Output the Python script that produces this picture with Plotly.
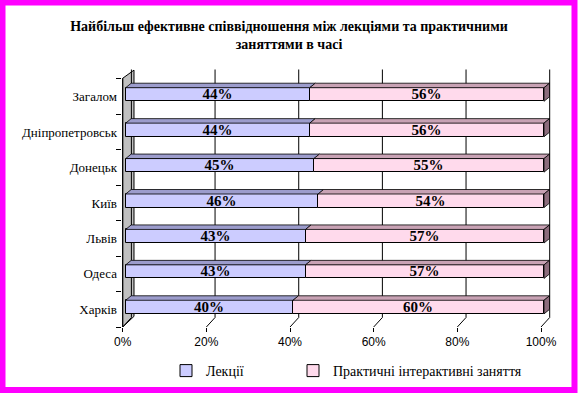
import plotly.graph_objects as go

# ---- data ----
cities = ["Загалом", "Дніпропетровськ", "Донецьк", "Київ", "Львів", "Одеса", "Харків"]
lectures = [44, 44, 45, 46, 43, 43, 40]
practice = [56, 56, 55, 54, 57, 57, 60]
x_ticks = [0, 0.2, 0.4, 0.6, 0.8, 1.0]
x_tick_labels = ["0%", "20%", "40%", "60%", "80%", "100%"]
series_names = ["Лекції", "Практичні інтерактивні заняття"]
title_text = "Найбільш ефективне співвідношення між лекціями та практичними<br>заняттями в часі"

SERIF = "Times New Roman, Liberation Serif, DejaVu Serif, serif"
SANS = "Arial, Liberation Sans, sans-serif"

# ---- geometry helpers (px -> data units) ----
W, H = 578, 393
ML, MR, MT, MB = 122, 22, 69, 66
PX_X = 418.3          # px per x unit (0..1)
PX_Y = 35.43          # px per category
x0px = 122.7          # pixel of x=0
xmin = (ML - x0px) / PX_X
xmax = xmin + (W - ML - MR) / PX_X
ymin = -0.5
ymax = ymin + (H - MT - MB) / PX_Y

n = len(cities)
ypos = [n - 1 - i for i in range(n)]   # first city on top

# depth offsets
gdx, gdy = 8.7 / PX_X, 9.5 / PX_Y          # grid back wall
fdx, fdy = 3.0 / PX_X, 2.2 / PX_Y          # bar front face offset
bdx, bdy = 5.5 / PX_X, 4.5 / PX_Y          # bar depth
bar_w = 13.6 / PX_Y

blue_front, blue_top = "#CCCCFF", "#9C9CCC"
pink_front, pink_top, pink_side = "#FFDAEC", "#C8A2B4", "#8C6C7C"

fig = go.Figure()

lec = [v / 100 for v in lectures]
pra = [v / 100 for v in practice]

fig.add_trace(go.Bar(
    name=series_names[0], orientation="h", legend="legend",
    y=[p + fdy for p in ypos], x=lec, base=[fdx] * n, width=bar_w,
    marker=dict(color=blue_front, line=dict(color="black", width=1)),
    text=[f"{v}%" for v in lectures], textposition="inside", insidetextanchor="middle",
    textangle=0, constraintext="none",
    textfont=dict(family=SERIF, size=15, color="black", weight="bold"),
    hoverinfo="skip",
))
fig.add_trace(go.Bar(
    name=series_names[1], orientation="h", legend="legend2",
    y=[p + fdy for p in ypos], x=pra, base=[fdx + l for l in lec], width=bar_w,
    marker=dict(color=pink_front, line=dict(color="black", width=1)),
    text=[f"{v}%" for v in practice], textposition="inside", insidetextanchor="middle",
    textangle=0, constraintext="none",
    textfont=dict(family=SERIF, size=15, color="black", weight="bold"),
    hoverinfo="skip",
))

shapes = []
def px2paper_x(px):
    return (px - ML) / (W - ML - MR)
def px2paper_y(py):
    return (H - MB - py) / (H - MT - MB)

# outer magenta frame
shapes.append(dict(type="rect", xref="paper", yref="paper",
                   x0=px2paper_x(2.5), x1=px2paper_x(574.5),
                   y0=px2paper_y(2.5), y1=px2paper_y(390),
                   line=dict(color="#FF00FF", width=6), fillcolor="rgba(0,0,0,0)",
                   layer="above"))

# side wall (gray)
wall_path = (f"M0,{-0.5} L0,{6.5 + 0.02} L{0.027},{6.5 + 0.25} "
             f"L{0.027},{-0.5 + 0.30} Z")
shapes.append(dict(type="path", xref="x", yref="y", path=wall_path,
                   fillcolor="#C0C0C0", line=dict(color="black", width=1), layer="below"))

# grid lines: back wall verticals + floor diagonals
for t in x_ticks:
    shapes.append(dict(type="line", xref="x", yref="y",
                       x0=t + gdx, x1=t + gdx, y0=-0.5 + gdy, y1=6.5 + gdy,
                       line=dict(color="black", width=1), layer="below"))
    shapes.append(dict(type="line", xref="x", yref="y",
                       x0=t, x1=t + gdx, y0=-0.5, y1=-0.5 + gdy,
                       line=dict(color="black", width=1), layer="below"))

# y axis line
shapes.append(dict(type="line", xref="x", yref="y", x0=0, x1=0, y0=-0.5, y1=6.5 + 0.02,
                   line=dict(color="black", width=1), layer="above"))

# 3D faces of bars
for p, l, r in zip(ypos, lec, pra):
    yt = p + fdy + bar_w / 2
    yb = p + fdy - bar_w / 2
    xa, xb = fdx, fdx + l
    shapes.append(dict(type="path", xref="x", yref="y",
                       path=f"M{xa},{yt} L{xa + bdx},{yt + bdy} L{xb + bdx},{yt + bdy} L{xb},{yt} Z",
                       fillcolor=blue_top, line=dict(color="black", width=0.8), layer="above"))
    xa, xb = fdx + l, fdx + l + r
    shapes.append(dict(type="path", xref="x", yref="y",
                       path=f"M{xa},{yt} L{xa + bdx},{yt + bdy} L{xb + bdx},{yt + bdy} L{xb},{yt} Z",
                       fillcolor=pink_top, line=dict(color="black", width=0.8), layer="above"))
    shapes.append(dict(type="path", xref="x", yref="y",
                       path=f"M{xb},{yb} L{xb + bdx},{yb + bdy} L{xb + bdx},{yt + bdy} L{xb},{yt} Z",
                       fillcolor=pink_side, line=dict(color="black", width=0.8), layer="above"))

legend_common = dict(orientation="h", xanchor="left", yanchor="middle",
                     font=dict(family=SERIF, size=14, color="black"),
                     bgcolor="rgba(0,0,0,0)", borderwidth=0, itemwidth=30)

fig.update_layout(
    width=W, height=H,
    margin=dict(l=ML, r=MR, t=MT, b=MB, autoexpand=False),
    paper_bgcolor="white", plot_bgcolor="white",
    barmode="overlay", bargap=0,
    shapes=shapes,
    title=dict(text=title_text, x=0.5, xanchor="center", xref="container",
               y=1 - 31 / H, yanchor="middle", yref="container",
               font=dict(family=SERIF, size=14, color="black", weight="bold")),
    xaxis=dict(range=[xmin, xmax], tickvals=x_ticks, ticktext=x_tick_labels,
               showgrid=False, zeroline=False, showline=False, automargin=False,
               ticks="outside", ticklen=4, tickcolor="black", tickwidth=1,
               tickfont=dict(family=SANS, size=12, color="black"),
               fixedrange=True),
    yaxis=dict(range=[ymin, ymax], tickvals=ypos, ticktext=cities,
               showgrid=False, zeroline=False, showline=False, ticks="",
               ticklabelstandoff=4, automargin=False,
               tickfont=dict(family=SERIF, size=13, color="black"),
               minor=dict(tickvals=[k - 0.5 for k in range(n + 1)], ticks="outside",
                          ticklen=5, tickcolor="black", tickwidth=1, showgrid=False),
               fixedrange=True),
    legend=dict(x=px2paper_x(166), y=px2paper_y(371), **legend_common),
    legend2=dict(x=px2paper_x(293), y=px2paper_y(371), **legend_common),
    showlegend=True,
)

fig.write_html("out.html", config={"displayModeBar": False},
               post_script="document.body.style.margin='0';document.body.style.overflow='hidden';")
